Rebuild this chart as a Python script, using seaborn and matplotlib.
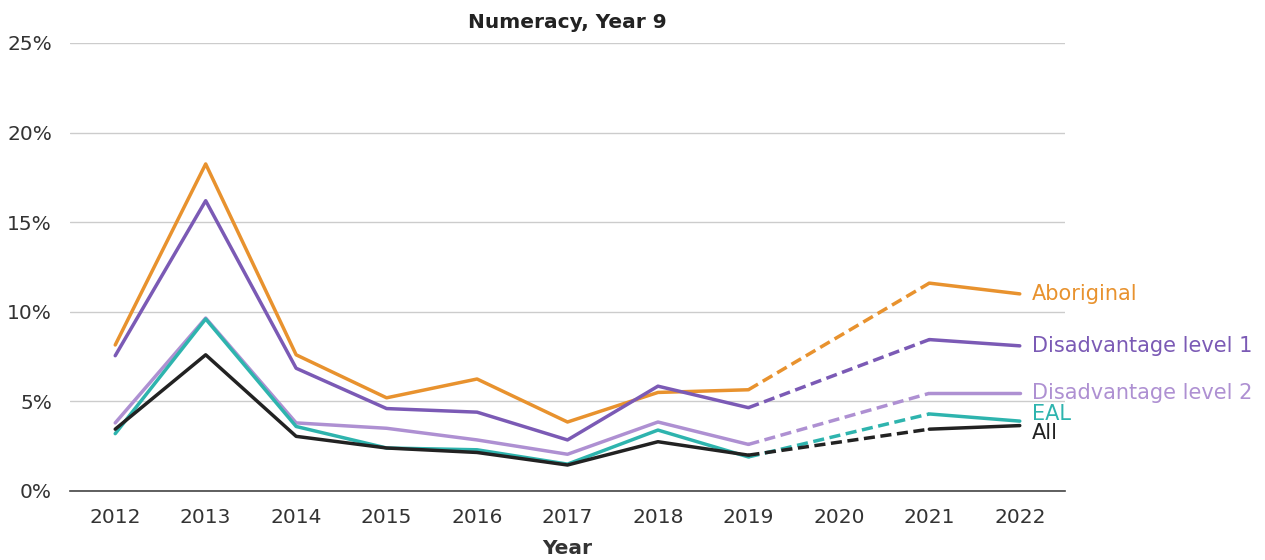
import numpy as np
import pandas as pd
import matplotlib
matplotlib.use("Agg")
import matplotlib.pyplot as plt
import seaborn as sns
from matplotlib.ticker import FuncFormatter

years = [2012, 2013, 2014, 2015, 2016, 2017, 2018, 2019, 2020, 2021, 2022]
nan = np.nan
aboriginal = [8.15, 18.25, 7.6, 5.2, 6.25, 3.85, 5.5, 5.65, nan, 11.6, 11.0]
disadv1 = [7.55, 16.2, 6.85, 4.6, 4.4, 2.85, 5.85, 4.65, nan, 8.45, 8.1]
disadv2 = [3.8, 9.65, 3.8, 3.5, 2.85, 2.05, 3.85, 2.6, nan, 5.45, 5.45]
eal = [3.2, 9.6, 3.6, 2.4, 2.3, 1.5, 3.4, 1.9, nan, 4.3, 3.9]
all_students = [3.45, 7.6, 3.05, 2.4, 2.15, 1.45, 2.75, 2.0, nan, 3.45, 3.65]

series_names = ["Aboriginal", "Disadvantage level 1", "Disadvantage level 2", "EAL", "All"]
series_values = [aboriginal, disadv1, disadv2, eal, all_students]
colors = ["#E8922E", "#7B5AB5", "#AE90D2", "#2EB4AE", "#222222"]
label_offsets = [0, 0, 0, 0.4, -0.4]  # percentage-point nudges to avoid overlap
yticks = [0, 5, 10, 15, 20, 25]

sns.set_theme(style="white")
plt.rcParams['font.family'] = ['DejaVu Sans']

fig = plt.figure(figsize=(12.65, 5.6), dpi=100)
ax = fig.add_axes([70/1265, 1-491/560, (1065-70)/1265, (491-43)/560])

for name, vals, c in zip(series_names, series_values, colors):
    df = pd.DataFrame({"Year": years, "Value": vals})
    seg1 = df[(df.Year <= 2019)]
    seg2 = df[(df.Year >= 2021)]
    gap = df[df.Year.isin([2019, 2021])]
    sns.lineplot(data=seg1, x="Year", y="Value", color=c, lw=2.5, ax=ax)
    sns.lineplot(data=seg2, x="Year", y="Value", color=c, lw=2.5, ax=ax)
    sns.lineplot(data=gap, x="Year", y="Value", color=c, lw=2.5, ax=ax, linestyle=(0, (3.2, 1.6)))

for name, vals, c, off in zip(series_names, series_values, colors, label_offsets):
    ax.text(years[-1] + 0.13, vals[-1] + off, name, color=c, fontsize=15,
            va="center", ha="left", clip_on=False)

ax.set_xlim(2011.5, 2022.5)
ax.set_ylim(0, 25)
ax.set_xticks(years)
ax.set_xticklabels([str(y) for y in years])
ax.set_yticks(yticks)
ax.yaxis.set_major_formatter(FuncFormatter(lambda v, p: f"{v:.0f}%"))
ax.grid(axis="y", color="#cccccc", lw=1)
ax.set_axisbelow(True)
for s in ["top", "right", "left"]:
    ax.spines[s].set_visible(False)
ax.spines["bottom"].set_color("#444444")
ax.spines["bottom"].set_linewidth(1.2)
ax.tick_params(axis="both", length=0, labelsize=14.5, colors="#333333")
ax.tick_params(axis="y", pad=13)
ax.tick_params(axis="x", pad=12)
ax.set_xlabel("Year", fontsize=14.5, fontweight="bold", color="#333333", labelpad=9)
ax.set_ylabel("")
ax.set_title("Numeracy, Year 9", fontsize=14.5, fontweight="bold", color="#222222", pad=11)

fig.savefig("out.png", dpi=100)
